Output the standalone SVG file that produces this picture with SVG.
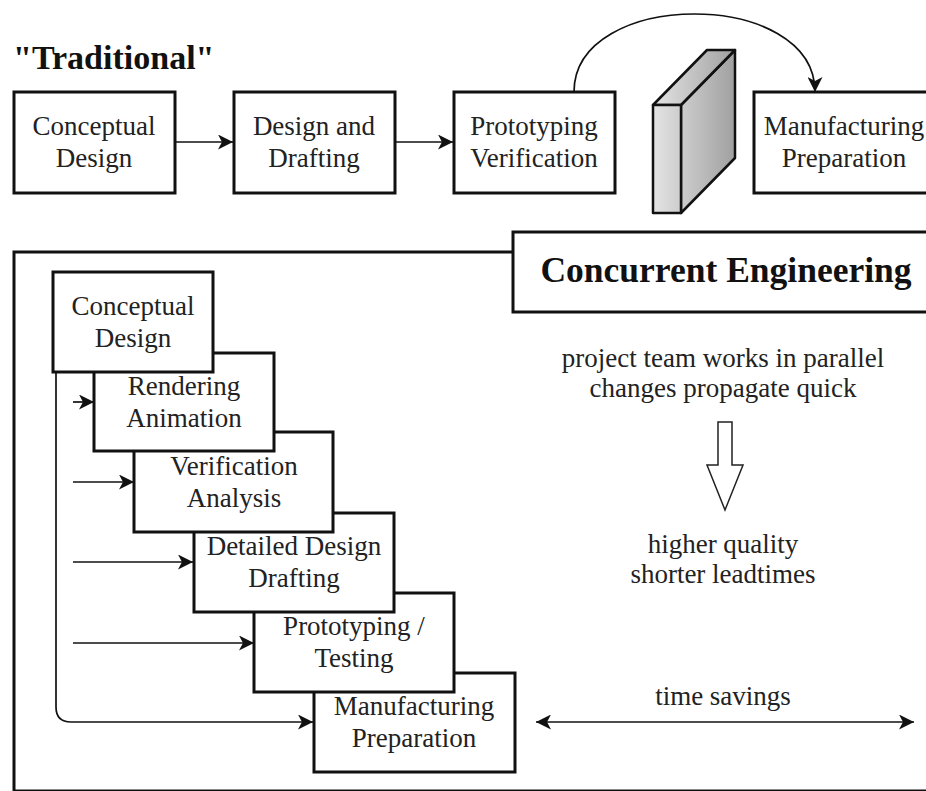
<svg xmlns="http://www.w3.org/2000/svg" width="926" height="791" viewBox="0 0 926 791">
  <style>
    .box { fill: #ffffff; stroke: #111111; stroke-width: 3; }
    .lbl { font-family: "Liberation Serif", "Times New Roman", serif; font-size: 27px; fill: #222222; text-anchor: middle; }
    .title { font-family: "Liberation Serif", "Times New Roman", serif; font-weight: bold; fill: #111111; }
    .edge { fill: none; stroke: #111111; stroke-width: 1.7; }
  </style>
  <defs>
    <marker id="arrow" viewBox="0 0 15 15" refX="15" refY="7.5" markerWidth="15" markerHeight="15" markerUnits="userSpaceOnUse" orient="auto-start-reverse">
      <path d="M0,0 L15,7.5 L0,15 L4,7.5 Z" fill="#111111"/>
    </marker>
    <linearGradient id="wallShade" gradientUnits="userSpaceOnUse" x1="653" y1="0" x2="735" y2="0">
      <stop offset="0" stop-color="#e4e4e4"/>
      <stop offset="1" stop-color="#a0a0a0"/>
    </linearGradient>
  </defs>

  <rect width="926" height="791" fill="#ffffff"/>

  <!-- Title of the sequential process -->
  <text class="title" x="13" y="69" font-size="34">"Traditional"</text>

  <!-- Sequential process -->
  <g id="trad-conceptual">
    <rect class="box" x="14" y="92" width="161" height="101"/>
    <text class="lbl" x="94" y="135">Conceptual</text>
    <text class="lbl" x="94" y="167">Design</text>
  </g>
  <g id="trad-design">
    <rect class="box" x="234" y="92" width="161" height="101"/>
    <text class="lbl" x="314" y="135">Design and</text>
    <text class="lbl" x="314" y="167">Drafting</text>
  </g>
  <g id="trad-prototyping">
    <rect class="box" x="454" y="92" width="161" height="101"/>
    <text class="lbl" x="534" y="135">Prototyping</text>
    <text class="lbl" x="534" y="167">Verification</text>
  </g>
  <g id="trad-manufacturing">
    <rect class="box" x="754" y="92" width="182" height="101"/>
    <text class="lbl" x="844" y="135">Manufacturing</text>
    <text class="lbl" x="844" y="167">Preparation</text>
  </g>

  <!-- Wall between prototyping and manufacturing -->
  <g id="wall" stroke="#111111" stroke-width="2.5" stroke-linejoin="round" fill="url(#wallShade)">
    <path d="M681,105 L735,50 L735,158 L681,213 Z"/>
    <path d="M653,105 L707,50 L735,50 L681,105 Z"/>
    <rect x="653" y="105" width="28" height="108"/>
  </g>

  <!-- Concurrent engineering frame -->
  <g id="ce-frame">
    <rect x="14" y="252" width="930" height="539" fill="none" stroke="#111111" stroke-width="3"/>
  </g>
  <g id="ce-title">
    <rect class="box" x="513" y="232" width="430" height="80"/>
    <text class="title" x="726" y="282" font-size="35.5" text-anchor="middle">Concurrent Engineering</text>
  </g>

  <!-- Overlapping concurrent phases (earlier phases drawn on top) -->
  <g id="ce-manufacturing">
    <rect class="box" x="314" y="673" width="201" height="99"/>
    <text class="lbl" x="414" y="715">Manufacturing</text>
    <text class="lbl" x="414" y="747">Preparation</text>
  </g>
  <g id="ce-prototyping">
    <rect class="box" x="254" y="593" width="200" height="99"/>
    <text class="lbl" x="354" y="635">Prototyping /</text>
    <text class="lbl" x="354" y="667">Testing</text>
  </g>
  <g id="ce-detailed">
    <rect class="box" x="194" y="513" width="200" height="99"/>
    <text class="lbl" x="294" y="555">Detailed Design</text>
    <text class="lbl" x="294" y="587">Drafting</text>
  </g>
  <g id="ce-verification">
    <rect class="box" x="134" y="432" width="199" height="100"/>
    <text class="lbl" x="234" y="475">Verification</text>
    <text class="lbl" x="234" y="507">Analysis</text>
  </g>
  <g id="ce-rendering">
    <rect class="box" x="94" y="353" width="180" height="98"/>
    <text class="lbl" x="184" y="395">Rendering</text>
    <text class="lbl" x="184" y="427">Animation</text>
  </g>
  <g id="ce-conceptual">
    <rect class="box" x="53" y="272" width="160" height="100"/>
    <text class="lbl" x="133" y="315">Conceptual</text>
    <text class="lbl" x="133" y="347">Design</text>
  </g>

  <!-- Benefits -->
  <g id="benefits">
    <text class="lbl" x="723" y="367">project team works in parallel</text>
    <text class="lbl" x="723" y="397">changes propagate quick</text>
    <path d="M718,422 H732 V465 H743 L725,510 L707,465 H718 Z" fill="#ffffff" stroke="#222222" stroke-width="1.5" stroke-linejoin="miter"/>
    <text class="lbl" x="723" y="553">higher quality</text>
    <text class="lbl" x="723" y="583">shorter leadtimes</text>
    <text class="lbl" x="723" y="705">time savings</text>
  </g>

  <!-- Connectors -->
  <g id="connectors">
    <path class="edge" d="M175,142 H233" marker-end="url(#arrow)"/>
    <path class="edge" d="M395,142 H453" marker-end="url(#arrow)"/>
    <path class="edge" d="M574,92 C574,-12 815,-12 815,92" marker-end="url(#arrow)"/>
    <path class="edge" d="M73,402 H94" marker-end="url(#arrow)"/>
    <path class="edge" d="M73,482 H134" marker-end="url(#arrow)"/>
    <path class="edge" d="M73,562 H193" marker-end="url(#arrow)"/>
    <path class="edge" d="M73,643 H254" marker-end="url(#arrow)"/>
    <path class="edge" d="M56,372 V707 Q56,722 71,722 H313" marker-end="url(#arrow)"/>
    <path class="edge" d="M536,722 H914" marker-start="url(#arrow)" marker-end="url(#arrow)"/>
  </g>
</svg>
